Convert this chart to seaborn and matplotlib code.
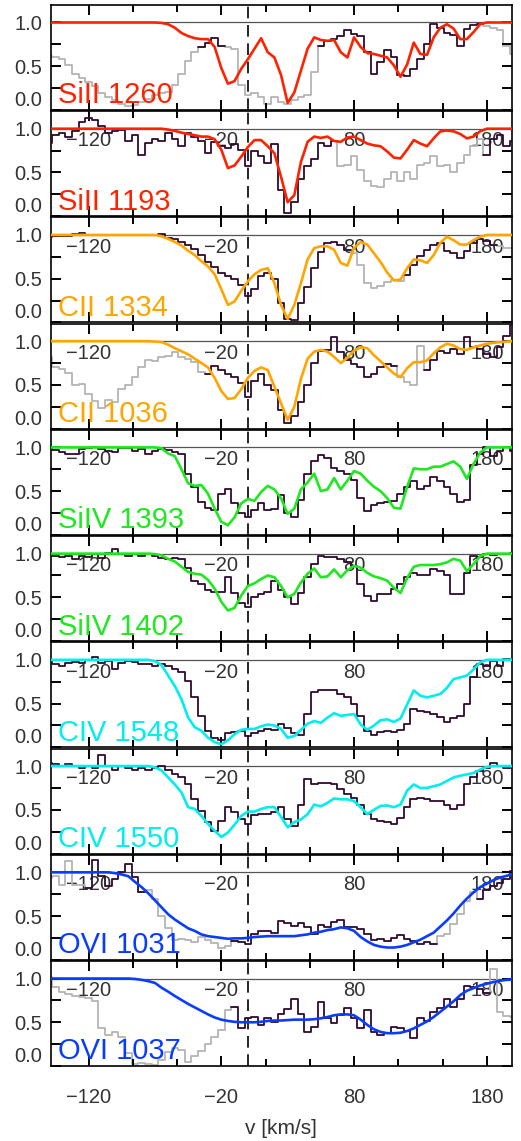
import numpy as np
import matplotlib
matplotlib.use("Agg")
import matplotlib.pyplot as plt
import seaborn as sns

# velocity grid (km/s), 5 km/s bins
velocity = np.arange(-150, 201, 5)

line_names = ["SiII 1260", "SiII 1193", "CII 1334", "CII 1036", "SiIV 1393",
              "SiIV 1402", "CIV 1548", "CIV 1550", "OVI 1031", "OVI 1037"]
line_colors = ["#ff2200", "#ff2200", "#ffa500", "#ffa500", "#1ee81e",
               "#1ee81e", "#00eeee", "#00eeee", "#0a3cff", "#0a3cff"]

flux_si2_1260 = [0.62, 0.60, 0.58, 0.51, 0.41, 0.36, 0.32, 0.27, 0.19, 0.15,
                 0.11, 0.07, 0.05, 0.06, 0.09, 0.13, 0.17, 0.19, 0.20, 0.28,
                 0.41, 0.56, 0.66, 0.72, 0.77, 0.82, 0.73, 0.72, 0.70, 0.28,
                 0.17, 0.19, 0.15, 0.07, 0.15, 0.09, 0.07, 0.11, 0.15, 0.17,
                 0.43, 0.73, 0.79, 0.81, 0.85, 0.91, 0.87, 0.85, 0.66, 0.41,
                 0.55, 0.69, 0.60, 0.40, 0.39, 0.47, 0.58, 0.75, 0.98, 0.94,
                 0.88, 0.86, 0.73, 0.92, 0.97, 0.98, 0.96, 0.94, 0.91, 0.73,
                 0.64]
flux_si2_1193 = [0.84, 0.93, 0.95, 0.91, 0.97, 1.08, 1.12, 1.10, 1.03, 0.95,
                 0.97, 0.99, 0.86, 0.93, 0.70, 0.84, 0.88, 0.86, 0.95, 0.88,
                 0.80, 0.95, 0.90, 0.86, 0.72, 0.85, 0.80, 0.78, 0.83, 0.76,
                 0.57, 0.74, 0.69, 0.61, 0.82, 0.30, 0.04, 0.16, 0.42, 0.57,
                 0.65, 0.84, 0.80, 0.86, 0.57, 0.59, 0.69, 0.53, 0.40, 0.34,
                 0.33, 0.42, 0.50, 0.40, 0.50, 0.42, 0.59, 0.61, 0.69, 0.57,
                 0.59, 0.50, 0.61, 0.70, 0.80, 0.88, 0.70, 0.88, 0.93, 0.80,
                 0.86]
flux_c2_1334 = [0.98, 0.99, 0.99, 0.99, 1.01, 1.02, 1.00, 1.00, 1.00, 1.00,
                1.00, 1.00, 1.00, 1.00, 1.00, 1.00, 1.00, 1.01, 0.97, 0.95,
                0.92, 0.88, 0.84, 0.77, 0.69, 0.63, 0.57, 0.53, 0.50, 0.43,
                0.30, 0.38, 0.53, 0.56, 0.50, 0.22, 0.04, 0.03, 0.22, 0.40,
                0.62, 0.80, 0.91, 0.92, 0.88, 0.83, 0.79, 0.66, 0.45, 0.39,
                0.42, 0.46, 0.49, 0.47, 0.54, 0.66, 0.76, 0.83, 0.89, 0.91,
                0.82, 0.79, 0.74, 0.82, 0.91, 0.95, 0.93, 0.89, 0.87, 0.85,
                0.85]
flux_c2_1036 = [0.82, 0.70, 0.68, 0.64, 0.50, 0.51, 0.40, 0.32, 0.24, 0.33,
                0.31, 0.45, 0.50, 0.59, 0.70, 0.78, 0.77, 0.82, 0.83, 0.88,
                0.82, 0.80, 0.76, 0.65, 0.63, 0.72, 0.67, 0.63, 0.59, 0.52,
                0.36, 0.55, 0.63, 0.50, 0.44, 0.21, 0.06, 0.14, 0.30, 0.50,
                0.75, 0.89, 0.90, 1.05, 0.88, 0.78, 0.74, 0.70, 0.59, 0.63,
                0.70, 0.74, 0.72, 0.59, 0.53, 0.50, 0.95, 0.67, 0.78, 0.89,
                0.86, 0.91, 0.85, 1.05, 0.93, 0.91, 0.85, 0.82, 0.93, 1.06,
                1.18]
flux_si4_1393 = [0.98, 0.97, 0.95, 0.92, 0.93, 0.98, 0.99, 1.00, 0.98, 0.96,
                 0.95, 0.99, 0.99, 0.96, 0.98, 0.92, 0.96, 0.98, 0.97, 0.95,
                 0.92, 0.70, 0.55, 0.38, 0.31, 0.28, 0.47, 0.53, 0.37, 0.25,
                 0.20, 0.28, 0.36, 0.28, 0.30, 0.46, 0.25, 0.21, 0.40, 0.70,
                 0.85, 0.91, 0.88, 0.77, 0.73, 0.70, 0.63, 0.42, 0.27, 0.34,
                 0.37, 0.375, 0.39, 0.47, 0.55, 0.62, 0.53, 0.56, 0.66, 0.62,
                 0.55, 0.47, 0.38, 0.40, 0.80, 0.92, 1.00, 0.90, 0.96, 1.00,
                 0.96]
flux_si4_1402 = [0.97, 0.97, 0.96, 0.97, 0.94, 0.97, 0.96, 1.00, 0.95, 1.01,
                 1.05, 0.99, 0.97, 0.99, 0.97, 1.00, 0.97, 0.95, 0.94, 0.95,
                 0.94, 0.84, 0.69, 0.65, 0.58, 0.56, 0.56, 0.73, 0.55, 0.43,
                 0.39, 0.50, 0.54, 0.56, 0.69, 0.58, 0.50, 0.42, 0.55, 0.73,
                 0.88, 0.97, 0.96, 0.96, 0.94, 0.90, 0.86, 0.65, 0.52, 0.46,
                 0.54, 0.54, 0.59, 0.65, 0.73, 0.78, 0.76, 0.75, 0.82, 0.80,
                 0.76, 0.54, 0.54, 0.78, 0.97, 0.96, 1.00, 0.98, 1.00, 1.00,
                 1.01]
flux_c4_1548 = [0.97, 0.95, 0.93, 0.96, 0.98, 0.96, 1.00, 1.03, 0.96, 0.99,
                0.90, 0.96, 0.99, 0.97, 0.95, 0.95, 0.93, 0.95, 0.93, 0.89,
                0.86, 0.76, 0.58, 0.36, 0.19, 0.11, 0.08, 0.16, 0.18, 0.19,
                0.13, 0.16, 0.19, 0.21, 0.20, 0.27, 0.22, 0.16, 0.14, 0.38,
                0.63, 0.66, 0.66, 0.65, 0.61, 0.57, 0.50, 0.36, 0.19, 0.14,
                0.17, 0.19, 0.18, 0.20, 0.27, 0.44, 0.42, 0.40, 0.38, 0.345,
                0.29, 0.33, 0.36, 0.50, 0.80, 0.95, 0.93, 0.99, 0.93, 1.01,
                1.00]
flux_c4_1550 = [1.04, 1.02, 1.00, 1.02, 1.00, 0.98, 1.00, 0.98, 1.13, 1.00,
                0.96, 1.00, 0.98, 0.96, 0.98, 0.96, 0.98, 1.00, 0.96, 0.905,
                0.87, 0.79, 0.62, 0.49, 0.36, 0.26, 0.375, 0.53, 0.47, 0.40,
                0.34, 0.44, 0.45, 0.45, 0.47, 0.53, 0.40, 0.32, 0.55, 0.85,
                0.79, 0.81, 0.81, 0.79, 0.74, 0.68, 0.64, 0.55, 0.45, 0.40,
                0.375, 0.36, 0.34, 0.41, 0.53, 0.62, 0.64, 0.62, 0.60, 0.60,
                0.56, 0.51, 0.56, 0.80, 0.87, 0.94, 0.98, 1.04, 1.00, 0.98,
                0.98]
flux_o6_1031 = [0.94, 0.96, 0.86, 1.13, 0.85, 0.86, 0.82, 1.14, 0.955, 0.84,
                0.92, 1.00, 1.10, 0.95, 0.78, 0.80, 0.69, 0.50, 0.36, 0.23,
                0.24, 0.23, 0.20, 0.26, 0.23, 0.19, 0.14, 0.16, 0.22, 0.20,
                0.18, 0.30, 0.33, 0.33, 0.31, 0.44, 0.42, 0.39, 0.42, 0.37,
                0.29, 0.40, 0.38, 0.43, 0.45, 0.38, 0.37, 0.35, 0.29, 0.23,
                0.24, 0.21, 0.25, 0.28, 0.24, 0.22, 0.18, 0.20, 0.18, 0.27,
                0.30, 0.41, 0.52, 0.67, 0.78, 0.69, 0.80, 0.84, 0.88, 0.92,
                1.01]
flux_o6_1037 = [1.02, 0.90, 0.85, 0.82, 0.80, 0.79, 0.78, 0.74, 0.43, 0.36,
                0.39, 0.33, 0.15, 0.02, 0.03, 0.02, 0.01, 0.07, 0.16, 0.21,
                0.18, 0.05, 0.12, 0.17, 0.25, 0.33, 0.41, 0.64, 0.68, 0.43,
                0.55, 0.56, 0.47, 0.545, 0.50, 0.60, 0.65, 0.77, 0.60, 0.39,
                0.45, 0.73, 0.55, 0.49, 0.58, 0.66, 0.545, 0.43, 0.64, 0.39,
                0.36, 0.38, 0.45, 0.43, 0.40, 0.32, 0.55, 0.52, 0.62, 0.66,
                0.77, 0.68, 0.77, 0.92, 0.90, 0.88, 0.83, 1.11, 0.62, 0.57,
                0.56]

# model profiles
model_si2_1260 = [1.0, 1.0, 1.0, 1.0, 1.0, 1.0, 1.0, 1.0, 1.0, 1.0,
                  1.0, 1.0, 1.0, 1.0, 1.0, 1.0, 1.0, 0.995, 0.98, 0.94,
                  0.88, 0.845, 0.82, 0.81, 0.81, 0.72, 0.48, 0.30, 0.33, 0.47,
                  0.58, 0.70, 0.82, 0.66, 0.60, 0.40, 0.08, 0.20, 0.45, 0.70,
                  0.83, 0.80, 0.79, 0.80, 0.66, 0.60, 0.83, 0.72, 0.65, 0.64,
                  0.62, 0.60, 0.51, 0.38, 0.52, 0.77, 0.64, 0.63, 0.83, 0.94,
                  0.98, 0.93, 0.81, 0.81, 0.89, 0.98, 1.0, 1.0, 1.0, 1.0,
                  1.0]
model_si2_1193 = [1.0, 1.0, 1.0, 1.0, 1.0, 1.0, 1.0, 1.0, 1.0, 1.0,
                  1.0, 1.0, 1.0, 1.0, 1.0, 1.0, 1.0, 1.0, 0.99, 0.975,
                  0.955, 0.94, 0.925, 0.91, 0.91, 0.88, 0.76, 0.55, 0.58, 0.68,
                  0.79, 0.87, 0.87, 0.80, 0.72, 0.45, 0.16, 0.24, 0.62, 0.85,
                  0.91, 0.895, 0.91, 0.86, 0.85, 0.90, 0.91, 0.87, 0.83, 0.81,
                  0.80, 0.74, 0.67, 0.66, 0.76, 0.87, 0.83, 0.80, 0.89, 0.97,
                  0.98, 0.97, 0.94, 0.89, 0.91, 0.97, 1.0, 1.0, 1.0, 1.0,
                  1.0]
model_c2_1334 = [1.0, 1.0, 1.0, 1.0, 1.0, 1.0, 1.0, 1.0, 1.0, 1.0,
                 1.0, 1.0, 1.0, 1.0, 1.0, 1.0, 1.0, 0.985, 0.955, 0.92,
                 0.88, 0.82, 0.77, 0.70, 0.64, 0.55, 0.38, 0.20, 0.24, 0.36,
                 0.47, 0.55, 0.60, 0.62, 0.45, 0.20, 0.04, 0.20, 0.45, 0.72,
                 0.85, 0.87, 0.87, 0.83, 0.68, 0.65, 0.85, 0.92, 0.89, 0.79,
                 0.69, 0.57, 0.48, 0.49, 0.62, 0.72, 0.71, 0.68, 0.77, 0.91,
                 0.98, 0.94, 0.89, 0.89, 0.94, 0.98, 1.0, 1.0, 1.0, 1.0,
                 1.0]
model_c2_1036 = [1.0, 1.0, 1.0, 1.0, 1.0, 1.0, 1.0, 1.0, 1.0, 1.0,
                 1.0, 1.0, 1.0, 1.0, 1.0, 1.0, 0.995, 0.99, 0.96, 0.92,
                 0.885, 0.85, 0.80, 0.75, 0.70, 0.58, 0.43, 0.34, 0.35, 0.45,
                 0.58, 0.66, 0.70, 0.67, 0.48, 0.29, 0.10, 0.25, 0.57, 0.80,
                 0.88, 0.90, 0.88, 0.82, 0.75, 0.81, 0.89, 0.93, 0.92, 0.84,
                 0.77, 0.70, 0.63, 0.59, 0.69, 0.76, 0.76, 0.78, 0.86, 0.93,
                 0.97, 0.95, 0.91, 0.90, 0.93, 0.95, 0.97, 0.98, 0.99, 0.995,
                 1.0]
model_si4_1393 = [1.0, 1.0, 1.0, 1.0, 1.0, 1.0, 1.0, 1.0, 1.0, 1.0,
                  1.0, 1.0, 1.0, 1.0, 1.0, 1.0, 1.0, 0.99, 0.93, 0.90,
                  0.75, 0.59, 0.56, 0.57, 0.47, 0.30, 0.15, 0.11, 0.20, 0.36,
                  0.41, 0.39, 0.49, 0.56, 0.52, 0.42, 0.24, 0.30, 0.52, 0.60,
                  0.70, 0.50, 0.52, 0.65, 0.52, 0.62, 0.73, 0.70, 0.62, 0.55,
                  0.50, 0.42, 0.31, 0.30, 0.55, 0.76, 0.75, 0.75, 0.78, 0.78,
                  0.81, 0.84, 0.78, 0.64, 0.81, 0.94, 1.0, 1.0, 1.0, 1.0,
                  1.0]
model_si4_1402 = [1.0, 1.0, 1.0, 1.0, 1.0, 1.0, 1.0, 1.0, 1.0, 1.0,
                  1.0, 1.0, 1.0, 1.0, 1.0, 1.0, 0.995, 0.98, 0.94, 0.91,
                  0.85, 0.79, 0.77, 0.76, 0.70, 0.60, 0.45, 0.35, 0.38, 0.52,
                  0.63, 0.66, 0.71, 0.75, 0.73, 0.63, 0.50, 0.54, 0.67, 0.77,
                  0.83, 0.73, 0.74, 0.82, 0.73, 0.81, 0.86, 0.84, 0.78, 0.74,
                  0.72, 0.69, 0.61, 0.55, 0.72, 0.85, 0.87, 0.87, 0.87, 0.88,
                  0.90, 0.94, 0.92, 0.80, 0.88, 0.97, 1.0, 1.0, 1.0, 1.0,
                  1.0]
model_c4_1548 = [1.0, 1.0, 1.0, 1.0, 1.0, 1.0, 1.0, 1.0, 1.0, 1.0,
                 1.0, 1.0, 1.0, 1.0, 1.0, 1.0, 0.985, 0.94, 0.82, 0.70,
                 0.55, 0.34, 0.23, 0.19, 0.11, 0.06, 0.035, 0.08, 0.15, 0.20,
                 0.21, 0.21, 0.24, 0.26, 0.25, 0.21, 0.11, 0.13, 0.20, 0.27,
                 0.30, 0.28, 0.34, 0.39, 0.36, 0.37, 0.38, 0.26, 0.20, 0.25,
                 0.31, 0.32, 0.29, 0.33, 0.49, 0.65, 0.59, 0.57, 0.59, 0.61,
                 0.68, 0.78, 0.80, 0.82, 0.89, 0.97, 1.0, 1.0, 1.0, 1.0,
                 1.0]
model_c4_1550 = [1.0, 1.0, 1.0, 1.0, 1.0, 1.0, 1.0, 1.0, 1.0, 1.0,
                 1.0, 1.0, 1.0, 1.0, 1.0, 1.0, 0.985, 0.95, 0.87, 0.79,
                 0.70, 0.53, 0.51, 0.43, 0.34, 0.26, 0.19, 0.24, 0.33, 0.43,
                 0.48, 0.48, 0.51, 0.53, 0.53, 0.42, 0.30, 0.36, 0.39, 0.45,
                 0.56, 0.54, 0.58, 0.63, 0.62, 0.62, 0.60, 0.53, 0.45, 0.50,
                 0.545, 0.55, 0.53, 0.56, 0.72, 0.79, 0.75, 0.75, 0.77, 0.79,
                 0.83, 0.87, 0.89, 0.905, 0.92, 0.96, 0.99, 1.0, 1.0, 1.0,
                 1.0]
model_o6_1031 = [1.0, 1.0, 1.0, 1.0, 1.0, 1.0, 1.0, 1.0, 1.0, 1.0,
                 0.99, 0.975, 0.955, 0.89, 0.83, 0.76, 0.68, 0.60, 0.52, 0.46,
                 0.41, 0.36, 0.33, 0.29, 0.27, 0.26, 0.25, 0.24, 0.245, 0.245,
                 0.25, 0.26, 0.265, 0.27, 0.27, 0.27, 0.27, 0.27, 0.28, 0.29,
                 0.31, 0.32, 0.34, 0.35, 0.37, 0.36, 0.33, 0.26, 0.21, 0.17,
                 0.15, 0.14, 0.14, 0.15, 0.17, 0.20, 0.23, 0.27, 0.31, 0.38,
                 0.45, 0.53, 0.62, 0.70, 0.77, 0.83, 0.87, 0.91, 0.94, 0.96,
                 0.98]
model_o6_1037 = [1.0, 1.0, 1.0, 1.0, 1.0, 1.0, 1.0, 1.0, 1.0, 1.0,
                 1.0, 1.0, 1.0, 0.995, 0.985, 0.97, 0.95, 0.895, 0.85, 0.80,
                 0.755, 0.71, 0.67, 0.63, 0.59, 0.555, 0.53, 0.515, 0.505, 0.50,
                 0.50, 0.50, 0.505, 0.515, 0.52, 0.52, 0.525, 0.53, 0.53, 0.53,
                 0.535, 0.545, 0.56, 0.58, 0.59, 0.59, 0.58, 0.53, 0.47, 0.42,
                 0.39, 0.375, 0.375, 0.38, 0.40, 0.43, 0.47, 0.51, 0.56, 0.62,
                 0.68, 0.74, 0.81, 0.86, 0.89, 0.92, 0.94, 0.96, 0.975, 0.985,
                 0.99]

# velocity ranges where the line is blended (drawn in gray)
blend_si2_1260 = [(-150, -38), (-17, 52), (178, 200)]
blend_si2_1193 = [(68, 177)]
blend_c2_1334 = [(77, 117), (188, 200)]
blend_c2_1036 = [(-150, -32), (112, 133)]
blend_si4_1393 = []
blend_si4_1402 = []
blend_c4_1548 = []
blend_c4_1550 = []
blend_o6_1031 = [(-150, -122), (-78, -12), (143, 172)]
blend_o6_1037 = [(-150, -12), (182, 200)]

fluxes = [flux_si2_1260, flux_si2_1193, flux_c2_1334, flux_c2_1036, flux_si4_1393,
          flux_si4_1402, flux_c4_1548, flux_c4_1550, flux_o6_1031, flux_o6_1037]
models = [model_si2_1260, model_si2_1193, model_c2_1334, model_c2_1036, model_si4_1393,
          model_si4_1402, model_c4_1548, model_c4_1550, model_o6_1031, model_o6_1037]
blends = [blend_si2_1260, blend_si2_1193, blend_c2_1334, blend_c2_1036, blend_si4_1393,
          blend_si4_1402, blend_c4_1548, blend_c4_1550, blend_o6_1031, blend_o6_1037]

sns.set_theme(style="ticks")
plt.rcParams["font.family"] = ["Liberation Sans", "DejaVu Sans"]
plt.rcParams.update({
    "axes.axisbelow": False,
    "xtick.direction": "in", "ytick.direction": "in",
    "xtick.top": True, "ytick.right": True,
    "xtick.major.size": 7, "ytick.major.size": 7,
    "xtick.minor.size": 5, "ytick.minor.size": 7,
    "xtick.major.width": 1.4, "ytick.major.width": 1.4,
    "xtick.minor.width": 1.4, "ytick.minor.width": 1.4,
    "xtick.color": "black", "ytick.color": "black",
    "xtick.labelcolor": "#333333", "ytick.labelcolor": "#333333",
    "xtick.labelsize": 14.5, "ytick.labelsize": 14.5,
})

W, H = 521, 1141
fig, axes = plt.subplots(10, 1, figsize=(W / 100, H / 100), dpi=100, sharex=True,
                         gridspec_kw=dict(left=50.7 / W, right=512 / W, top=1 - 5 / H,
                                          bottom=1 - 1066 / H, hspace=0.012))

for ax, name, color, flux, model, blend in zip(axes, line_names, line_colors, fluxes, models, blends):
    ax.set_facecolor("none")
    f = np.array(flux)
    in_gray = np.zeros(len(velocity), dtype=bool)
    for a, b in blend:
        in_gray |= (velocity >= a) & (velocity <= b)
    near_gray = in_gray.copy()
    near_gray[1:] |= in_gray[:-1]
    near_gray[:-1] |= in_gray[1:]

    ax.axhline(1.0, color="#555555", lw=0.9, zorder=1)
    ax.step(velocity, np.where(near_gray, f, np.nan), where="mid", color="#b4b4b4", lw=1.3, zorder=2)
    ax.step(velocity, np.where(in_gray, np.nan, f), where="mid", color="#2e0a2e", lw=1.3, zorder=3)
    sns.lineplot(x=velocity, y=model, ax=ax, color=color, lw=1.9, estimator=None, sort=False,
                 zorder=4, solid_joinstyle="round")
    ax.axvline(0, color="black", lw=1.2, dashes=(7, 4), zorder=1)
    ax.text(0.016, 0.062, name, transform=ax.transAxes, color=color, fontsize=21, zorder=5)

    ax.set_xlim(-148.5, 199)
    ax.set_ylim(0, 1.2)
    ax.set_yticks([0, 0.5, 1.0])
    ax.set_yticklabels(["0.0", "0.5", "1.0"])
    ax.set_yticks([0.25, 0.75], minor=True)
    ax.set_xticks([-120, -20, 80, 180])
    ax.set_xticks([-86.67, -53.33, 13.33, 46.67, 113.33, 146.67], minor=True)
    ax.set_ylabel("")
    ax.xaxis.set_tick_params(which="both", direction="in", top=True, bottom=True, labelbottom=True)
    ax.yaxis.set_tick_params(which="both", direction="in", left=True, right=True)
    ax.tick_params(axis="x", which="major", pad=15.5)
    ax.tick_params(axis="y", which="major", pad=6)
    for sp in ax.spines.values():
        sp.set_linewidth(1.2)
        sp.set_color("black")
    ax.yaxis.get_major_ticks()[0].label1.set_verticalalignment("bottom")

axes[-1].set_xlabel("v [km/s]", fontsize=15, labelpad=9, color="#333333")

fig.savefig("out.png", dpi=100)
